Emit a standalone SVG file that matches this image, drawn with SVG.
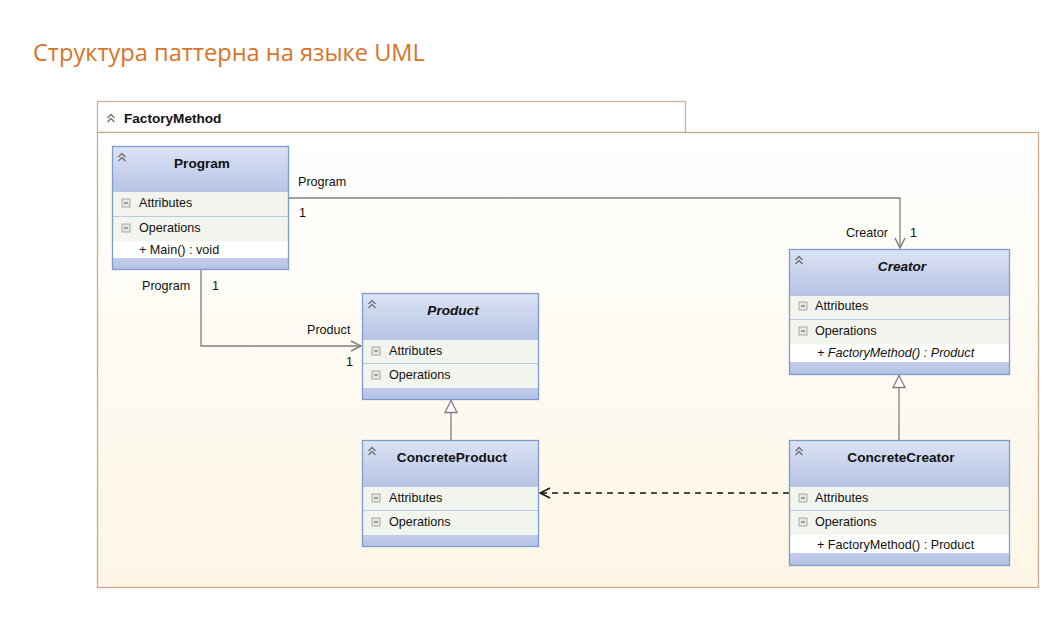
<svg xmlns="http://www.w3.org/2000/svg" width="1056" height="624" viewBox="0 0 1056 624">
<defs>
<linearGradient id="hdr" x1="0" y1="0" x2="0" y2="1">
<stop offset="0" stop-color="#DCE3F4"/>
<stop offset="1" stop-color="#B7C4E5"/>
</linearGradient>
<linearGradient id="band" x1="0" y1="0" x2="0" y2="1">
<stop offset="0" stop-color="#C2CEEA"/>
<stop offset="1" stop-color="#B3C1E3"/>
</linearGradient>
<linearGradient id="pkg" x1="0" y1="0" x2="0" y2="1">
<stop offset="0" stop-color="#FFFFFF"/>
<stop offset="1" stop-color="#FDF6E5"/>
</linearGradient>
<g id="chev">
<polyline points="-3.5,2 0,-1.5 3.5,2" fill="none" stroke="#777" stroke-width="1.5"/>
<polyline points="-3.5,6 0,2.5 3.5,6" fill="none" stroke="#777" stroke-width="1.5"/>
</g>
<g id="minus">
<rect x="0" y="0" width="8" height="8" fill="#E4E6E4" stroke="#A8ACA8" stroke-width="1"/>
<line x1="2" y1="4" x2="6" y2="4" stroke="#555" stroke-width="1"/>
</g>
<marker id="open" viewBox="0 0 12 12" refX="11" refY="6" markerWidth="12" markerHeight="12" markerUnits="userSpaceOnUse" orient="auto">
<polyline points="1,1 11,6 1,11" fill="none" stroke="#808080" stroke-width="1.5"/>
</marker>
<marker id="openb" viewBox="0 0 12 12" refX="11" refY="6" markerWidth="12" markerHeight="12" markerUnits="userSpaceOnUse" orient="auto">
<polyline points="1,1 11,6 1,11" fill="none" stroke="#111" stroke-width="1.5"/>
</marker>
<marker id="tri" viewBox="0 0 14 14" refX="13" refY="7" markerWidth="14" markerHeight="14" markerUnits="userSpaceOnUse" orient="auto">
<polygon points="1,1 13,7 1,13" fill="#FFFFFF" stroke="#808080" stroke-width="1.3"/>
</marker>
</defs>
<style>
text{font-family:"Liberation Sans",Arial,sans-serif;font-size:12.6px;fill:#111}
.title{font-family:"Open Sans","Noto Sans",sans-serif;font-size:23.6px;fill:#D9732A}
.cn{font-size:13.6px;font-weight:bold;text-anchor:middle}
.it{font-style:italic}
.box{fill:none;stroke:#7F9CCF;stroke-width:1.3}
.row{fill:#F2F5EE}
.div{stroke:#B9C9E6;stroke-width:1}
.conn{fill:none;stroke:#808080;stroke-width:1.3}
</style>
<rect width="1056" height="624" fill="#FFFFFF"/>
<text class="title" x="33" y="61">Структура паттерна на языке UML</text>

<g id="package">
<rect x="97.5" y="101.5" width="588" height="31" fill="#FFFFFF" stroke="#CDB395" stroke-width="1.3"/>
<rect x="97.5" y="132.5" width="941" height="455" fill="url(#pkg)" stroke="#C9AB8C" stroke-width="1.3"/>
<use href="#chev" x="111" y="116"/>
<text x="124" y="123" style="font-weight:bold;font-size:13.6px">FactoryMethod</text>
</g>

<g id="connectors">
<polyline class="conn" points="289,198 900,198 900,248" marker-end="url(#open)"/>
<polyline class="conn" points="201,270 201,346 361,346" marker-end="url(#open)"/>
<line class="conn" x1="451" y1="440" x2="451" y2="400.5" marker-end="url(#tri)"/>
<line class="conn" x1="899" y1="440" x2="899" y2="375.5" marker-end="url(#tri)"/>
<line x1="789" y1="493" x2="540" y2="493" fill="none" stroke="#111" stroke-width="1.3" stroke-dasharray="6,5" marker-end="url(#openb)"/>
<text x="298" y="186">Program</text>
<text x="299" y="217">1</text>
<text x="846" y="237">Creator</text>
<text x="910" y="237">1</text>
<text x="142" y="290">Program</text>
<text x="212" y="290">1</text>
<text x="307" y="334">Product</text>
<text x="346" y="366">1</text>
</g>

<g id="Program" transform="translate(112,146)">
<rect x="0" y="0" width="177" height="45" fill="url(#hdr)"/>
<rect class="row" x="0" y="45" width="177" height="50"/>
<rect x="0" y="95" width="177" height="17" fill="#FFFFFF"/>
<rect x="0" y="112" width="177" height="12" fill="url(#band)"/>
<line class="div" x1="0" y1="45.5" x2="177" y2="45.5"/>
<line class="div" x1="0" y1="70.5" x2="177" y2="70.5"/>
<rect class="box" x="0.5" y="0.5" width="176" height="123"/>
<use href="#chev" x="10" y="9"/>
<text class="cn" x="90" y="22">Program</text>
<use href="#minus" x="10" y="53"/>
<text x="27" y="61">Attributes</text>
<use href="#minus" x="10" y="78"/>
<text x="27" y="86">Operations</text>
<text x="27" y="108">+ Main() : void</text>
</g>

<g id="Product" transform="translate(362,293)">
<rect x="0" y="0" width="177" height="46" fill="url(#hdr)"/>
<rect class="row" x="0" y="46" width="177" height="49"/>
<rect x="0" y="95" width="177" height="12" fill="url(#band)"/>
<line class="div" x1="0" y1="46.5" x2="177" y2="46.5"/>
<line class="div" x1="0" y1="70.5" x2="177" y2="70.5"/>
<rect class="box" x="0.5" y="0.5" width="176" height="106"/>
<use href="#chev" x="10" y="9"/>
<text class="cn it" x="91" y="22">Product</text>
<use href="#minus" x="10" y="54"/>
<text x="27" y="62">Attributes</text>
<use href="#minus" x="10" y="78"/>
<text x="27" y="86">Operations</text>
</g>

<g id="Creator" transform="translate(789,249)">
<rect x="0" y="0" width="221" height="46" fill="url(#hdr)"/>
<rect class="row" x="0" y="46" width="221" height="49"/>
<rect x="0" y="95" width="221" height="18" fill="#FFFFFF"/>
<rect x="0" y="113" width="221" height="13" fill="url(#band)"/>
<line class="div" x1="0" y1="46.5" x2="221" y2="46.5"/>
<line class="div" x1="0" y1="70.5" x2="221" y2="70.5"/>
<rect class="box" x="0.5" y="0.5" width="220" height="125"/>
<use href="#chev" x="10" y="9"/>
<text class="cn it" x="113" y="22">Creator</text>
<use href="#minus" x="10" y="53"/>
<text x="26" y="61">Attributes</text>
<use href="#minus" x="10" y="78"/>
<text x="26" y="86">Operations</text>
<text class="it" x="28" y="108">+ FactoryMethod() : Product</text>
</g>

<g id="ConcreteProduct" transform="translate(362,440)">
<rect x="0" y="0" width="177" height="46" fill="url(#hdr)"/>
<rect class="row" x="0" y="46" width="177" height="49"/>
<rect x="0" y="95" width="177" height="12" fill="url(#band)"/>
<line class="div" x1="0" y1="46.5" x2="177" y2="46.5"/>
<line class="div" x1="0" y1="70.5" x2="177" y2="70.5"/>
<rect class="box" x="0.5" y="0.5" width="176" height="106"/>
<use href="#chev" x="10" y="9"/>
<text class="cn" x="90" y="22">ConcreteProduct</text>
<use href="#minus" x="10" y="54"/>
<text x="27" y="62">Attributes</text>
<use href="#minus" x="10" y="78"/>
<text x="27" y="86">Operations</text>
</g>

<g id="ConcreteCreator" transform="translate(789,440)">
<rect x="0" y="0" width="221" height="46" fill="url(#hdr)"/>
<rect class="row" x="0" y="46" width="221" height="49"/>
<rect x="0" y="95" width="221" height="18" fill="#FFFFFF"/>
<rect x="0" y="113" width="221" height="13" fill="url(#band)"/>
<line class="div" x1="0" y1="46.5" x2="221" y2="46.5"/>
<line class="div" x1="0" y1="70.5" x2="221" y2="70.5"/>
<rect class="box" x="0.5" y="0.5" width="220" height="125"/>
<use href="#chev" x="10" y="9"/>
<text class="cn" x="112" y="22">ConcreteCreator</text>
<use href="#minus" x="10" y="54"/>
<text x="26" y="62">Attributes</text>
<use href="#minus" x="10" y="78"/>
<text x="26" y="86">Operations</text>
<text x="28" y="109">+ FactoryMethod() : Product</text>
</g>
</svg>
